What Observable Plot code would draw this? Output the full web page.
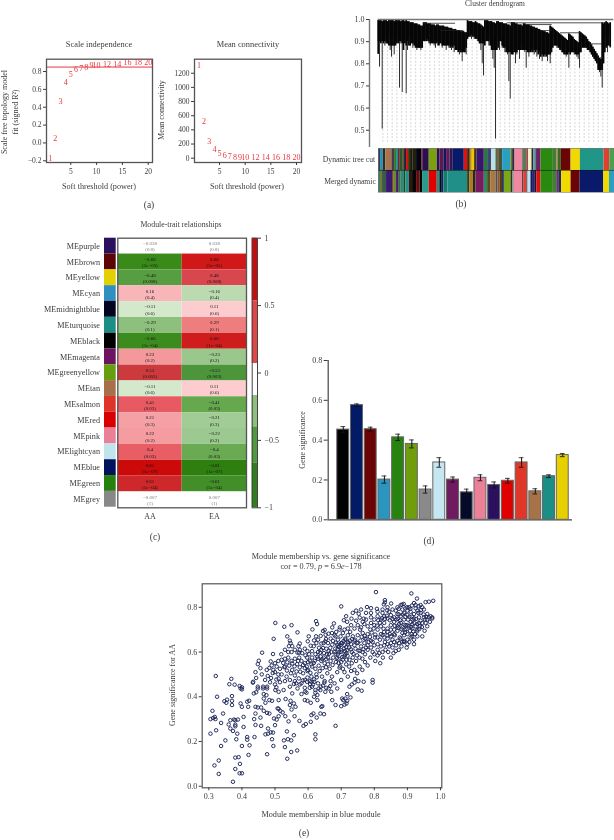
<!DOCTYPE html>
<html><head><meta charset="utf-8">
<script src="https://cdn.jsdelivr.net/npm/d3@7"></script>
<script src="https://cdn.jsdelivr.net/npm/@observablehq/plot@0.6"></script>
<style>
html,body{margin:0;padding:0;background:#fff}
#root{position:relative;width:614px;height:840px;overflow:hidden;font-family:"Liberation Serif",serif;color:#3c3c3c;filter:blur(.3px)}
.t{position:absolute;white-space:nowrap;line-height:1;transform-origin:center}
svg{position:absolute;overflow:visible;background:transparent}
</style></head><body><div id="root"></div>
<script>
// ---- (a) soft threshold
const powers=[1,2,3,4,5,6,7,8,9,10,12,14,16,18,20];
const fitR2=[-0.17,0.05,0.464,0.673,0.766,0.82,0.83,0.85,0.87,0.87,0.88,0.88,0.905,0.905,0.905];
const meanK=[1313,522,240,127,66,38,25,7,6,5,5,4,4,4,4];
const r2Cut=0.85;
// ---- (b) dendrogram: branch envelope read per leaf block
const dendroBottom=[.90,.785,.90,.505,.90,.88,.92,.89,.93,.86,.83,.88,.84,.90,.92,.90,.69,.89,.67,.93,.90,.665,.86,.92,.88,.90,.87,.89,.90,.86,.87,.87,.86,.87,
.93,.91,.92,.90,.89,.88,.91,.89,.88,.87,.90,.90,.88,.91,.87,.89,.88,.86,.90,.87,.89,.86,.88,.85,.89,.86,.88,.84,.85,.81,.87,.85,.84,
.94,.92,.95,.91,.93,.91,.93,.92,.90,.89,.86,.80,.745,.95,.90,.93,.88,.92,.86,.82,.78,.46,.90,.92,.86,.90,.87,.91,.85,.88,.84,.72,.64,
.90,.85,.88,.80,.84,.87,.82,.88,.86,.90,.85,.78,.88,.83,.87,.85,.88,.84,.86,.83,.87,.82,.86,.81,.85,.83,.84,.81,.84,.80,.85,
.92,.90,.88,.87,.88,.86,.87,.85,.84,.85,.83,.84,.78,.85,.88,.86,.84,.85,.83,.82,.78,.85,
.90,.89,.88,.87,.86,.86,.85,.84,.83,.82,.81,.80,.77,.76,.74,.69,.80,.92,.88,.85,.93,.87,.90,.86];
const dendroTop=[.995,.995,.995,.99,.995,.995,.995,.99,.995,.995,.995,.995,.99,.995,.995,.995,.995,.99,.995,.995,.99,.995,.99,.99,.985,.985,.985,.98,.98,.98,.975,.975,.97,.97,
.985,.985,.985,.98,.98,.98,.975,.975,.975,.97,.975,.975,.97,.97,.97,.97,.965,.965,.965,.96,.96,.96,.955,.955,.955,.95,.95,.95,.945,.945,.945,.94,.94,
.995,.99,.99,.99,.985,.985,.99,.985,.98,.98,.975,.97,.965,.995,.995,.995,.99,.99,.99,.985,.985,.98,.99,.99,.985,.985,.985,.98,.98,.98,.975,.975,.97,
.985,.985,.985,.98,.98,.975,.975,.975,.97,.98,.98,.975,.975,.975,.97,.97,.965,.965,.96,.96,.955,.955,.95,.95,.945,.945,.94,.94,.935,
.97,.965,.96,.955,.95,.945,.94,.935,.93,.925,.92,.915,.91,.905,.935,.93,.925,.92,.91,.905,.90,.895,
.945,.94,.935,.93,.925,.92,.91,.90,.895,.885,.875,.865,.855,.845,.835,.825,.82,.985,.98,.985,.99,.985,.98,.985];
const hangers=[14,28,42,56,70,84,98,112,127,141,155,169,183,197,211,225,239,253,268,282,296,310,324,338,352,366,380,394,408,422,436,450,464,478,492,506,520,534,548,562,576,590,604,618,632,646,660,674,688];
const mergeH=[.983,.95,.985,.977,.95,.94,.89,.827];
const mergeFrom=[137,187,387,442,487,547,637,667];
const mergeTo=[232,257,687,522,522,607,672,677];
const trackNames=["Dynamic tree cut","Merged dynamic"];
const topWidths=[6,8,8,18,8,6,6,5,7,6,6,6,6,8,10,16,4,18,24,8,13,7,10,10,33,10,8,6,7,7,22,10,12,13,5,5,10,25,5,7,23,12,6,10,5,7,4,11,37,10,4,10,29,28,71,17,15];
const topColors=["#3a3a5a","#2a8fb0","#2c2c2c","#a87548","#4a3a50","#3a7a30","#1f8f88","#6a1a2a","#2a5a20","#5a5a40","#2a1a3a","#d01010","#3a3a10","#1a1a08","#202010","#030314","#5a0a1a","#2a1050","#7aa010","#2a1050","#5a1a5a","#0a1a5a","#6a1a5a","#2a1a50","#0a1a6a","#e01010","#3a2a10","#c09010","#e8c800","#4a3010","#3a1570","#2a7a3a","#3a4a70","#bde0e8","#3a7a3a","#8a3a3a","#3a5a3a","#2a9fc0","#6a7a20","#2a2a3a","#ee88a0","#5a7a5a","#a04a4a","#f4f0c0","#2a2a2a","#5a9ab0","#2a2a3a","#7a1a6a","#2a8a10","#4a7a3a","#a08050","#3a6a20","#6a0505","#f0d800","#1f9688","#e04030","#4aa050"];
const botWidths=[6,6,12,18,5,7,8,6,8,6,10,10,12,10,8,20,24,8,5,7,12,59,7,10,8,25,10,10,15,6,6,8,5,20,5,5,25,3,10,3,9,7,6,5,12,37,10,8,7,28,27,71,17,16];
const botColors=["#3a7a6a","#6a7a30","#3a5a4a","#3a1a70","#6a4a20","#6a8a30","#4a1a6a","#2a7a30","#2a8a80","#1a4a20","#1f8f88","#2a1a10","#0a0505","#6a0a0a","#050505","#2a9a8a","#e00000","#1f8f88","#050510","#0a2a5a","#1a7a70","#1f8f88","#3a3a10","#b07a20","#2a2a10","#7a1a60","#2a8a60","#5a4a20","#a87a40","#5a4a5a","#8a5a20","#5a3a1a","#0a1a5a","#7aa818","#2a3a10","#888888","#ee88a0","#2a2a2a","#e04030","#2a2a3a","#bfe0ec","#0a1a5a","#3a1a70","#1a1a2a","#e01010","#2a8a10","#4a7a3a","#5a3a70","#2a2a4a","#f0d800","#6a0505","#0a1a6a","#f0d800","#2a9fc0"];
// ---- (c) heatmap
const modules=["MEpurple","MEbrown","MEyellow","MEcyan","MEmidnightblue","MEturquoise","MEblack","MEmagenta","MEgreenyellow","MEtan","MEsalmon","MEred","MEpink","MElightcyan","MEblue","MEgreen","MEgrey"];
const moduleColors=["#2c1060","#5c0505","#e2d000","#2e8fc0","#03051f","#1b8e86","#000000","#6d1460","#679e10","#a5704a","#dd3628","#d80000","#ea7f98","#bfe4ee","#02135e","#26800e","#888888"];
const corAA=[-0.038,-0.68,-0.48,0.16,-0.11,-0.29,-0.66,0.23,0.53,-0.11,0.41,0.21,0.22,0.4,0.81,0.61,-0.007];
const corEA=[0.038,0.68,0.48,-0.16,0.11,0.29,0.66,-0.23,-0.53,0.11,-0.41,-0.21,-0.22,-0.4,-0.81,-0.61,0.007];
const pvals=["0.8","5e−05","0.008","0.4","0.6","0.1","1e−04","0.2","0.003","0.6","0.03","0.3","0.2","0.03","1e−07","5e−04","1"];
const traits=["AA","EA"];
const heatStops=[-.81,-.68,-.53,-.41,-.29,-.22,-.11,-.05,.05,.11,.22,.29,.41,.53,.68,.81];
const heatColors=["#2e7f0f","#3a8a1a","#4c953a","#66a84e","#8cc07c","#9cc98f","#d4e8cc","#ffffff","#ffffff","#fccccf","#f49ca0","#ee7e7e","#e85a62","#cc3a3e","#d01818","#cc0a0a"];
const barFrom=[.535,.07,-.167,-.4,-.67];
const barTo=[1,.535,.07,-.167,-.4];
const barFill=["#c60d0d","#e04848","#ffffff","#8fbf7f","#4f9a3f"];
const barLow=[-1];const barLowTo=[-.67];const barLowFill=["#2f7f1f"];
// ---- (d) bars
const barColors=["#000000","#031a66","#6b0505","#2a95bf","#268310","#6f9d0b","#8a8a8a","#c6e6f2","#701a60","#050a2a","#ec8098","#2c1060","#e00000","#e03828","#a87248","#1b8e86","#e6d000"];
const barNames=["black","blue","brown","cyan","green","greenyellow","grey","lightcyan","magenta","midnightblue","pink","purple","red","salmon","tan","turquoise","yellow"];
const geneSig=[.453,.576,.455,.202,.414,.381,.152,.288,.202,.138,.211,.175,.196,.288,.143,.219,.325];
const geneErr=[.015,.006,.01,.018,.016,.02,.018,.024,.013,.016,.015,.015,.012,.024,.013,.007,.008];
// ---- (e) scatter
const membership=[
[.305,.235],[.322,.25],[.305,.30],[.313,.305],[.318,.31],[.32,.30],[.311,.337],[.337,.283],[.343,.325],[.325,.40],[.347,.38],[.355,.387],[.353,.373],[.37,.403],[.37,.382],[.37,.363],[.35,.205],[.337,.18],[.36,.276],[.365,.295],[.376,.298],[.388,.298],[.38,.295],[.38,.275],[.38,.268],[.365,.258],[.373,.247],[.386,.235],[.383,.21],[.40,.18],[.405,.265],[.405,.31],[.423,.183],[.42,.14],[.416,.208],[.416,.22],[.438,.22],[.317,.093],[.33,.115],[.33,.055],[.373,.02],[.38,.128],[.39,.13],[.394,.10],[.38,.077],[.393,.058],[.40,.058],[.476,.143],[.537,.123],[.549,.153],[.567,.16],[.622,.21],[.622,.232],[.683,.27],
[.396,.37],[.40,.355],[.396,.437],[.40,.433],[.416,.378],[.422,.382],[.419,.355],[.441,.355],[.448,.352],[.458,.352],[.441,.325],[.437,.30],[.456,.307],[.441,.274],[.458,.27],[.471,.232],[.479,.235],[.479,.258],[.487,.241],[.494,.24],[.491,.21],[.495,.18],[.466,.337],[.476,.328],[.483,.325],[.50,.273],[.497,.303],[.505,.298],[.511,.313],[.508,.348],[.511,.346],[.516,.337],[.523,.33],[.531,.313],[.541,.29],[.536,.245],[.527,.205],[.539,.21],[.549,.205],[.53,.175],[.557,.228],[.559,.313],[.574,.292],[.586,.27],[.593,.278],[.608,.288],[.61,.318],[.616,.325],[.626,.307],[.637,.325],[.648,.322],[.64,.355],[.643,.358],[.628,.385],[.608,.373],[.598,.382],[.59,.385],[.591,.423],[.595,.418],[.58,.412],[.568,.437],[.552,.415],[.547,.382],[.545,.363],[.557,.37],[.55,.343],[.562,.355],[.532,.39],[.511,.385],[.501,.43],[.511,.422],[.526,.43],[.545,.445],[.557,.457],[.564,.46],[.491,.382],[.483,.385],[.466,.392],[.474,.407],[.471,.373],[.464,.437],[.476,.437],[.436,.415],[.443,.42],[.448,.437],[.433,.463],[.466,.412],
[.673,.385],[.683,.363],[.70,.358],[.703,.392],[.706,.385],[.713,.392],[.718,.382],[.71,.365],[.716,.37],[.728,.397],[.718,.412],[.725,.445],[.732,.455],[.74,.463],[.75,.433],[.762,.427],[.768,.467],[.795,.463],[.795,.475],[.688,.437],[.67,.422],[.652,.422],[.637,.43],[.632,.437],[.667,.448],[.662,.437],[.649,.463],[.622,.43],[.619,.467],[.606,.457],[.61,.467],[.597,.467],[.628,.408],[.618,.40],[.622,.418],
[.805,.868],[.912,.862],[.929,.839],[.978,.829],[.965,.825],[.955,.823],[.92,.819],[.832,.832],[.832,.822],[.829,.813],[.851,.817],[.70,.804],[.778,.801],[.79,.796],[.808,.793],[.839,.786],[.884,.812],[.889,.815],[.899,.80],[.909,.793],
[.501,.73],[.528,.713],[.55,.72],[.568,.688],[.624,.738],[.627,.725],[.613,.701],[.678,.728],[.673,.71],[.696,.71],[.708,.742],[.715,.76],[.718,.735],[.731,.749],[.753,.771],[.756,.754],[.768,.749],
[.496,.659],[.537,.67],[.461,.597],[.494,.591],[.519,.59],[.545,.651],[.547,.64],[.542,.626],[.552,.626],[.575,.638],[.571,.626],[.568,.597],[.573,.597],[.573,.575],[.59,.615],[.599,.648],[.602,.67],[.624,.67],[.63,.655],[.64,.638],[.647,.64],[.652,.648],[.645,.694],[.65,.699],[.653,.677],[.617,.626],[.598,.604],[.612,.604],[.633,.619],[.451,.561],[.448,.546],[.456,.528],[.487,.558],[.483,.529],[.441,.51],[.443,.484],[.434,.467],[.50,.51],[.493,.506],[.478,.493],[.488,.484],[.511,.481],[.504,.477],[.321,.493],[.368,.48],[.362,.456],[.378,.454],[.393,.448],[.40,.442],[.448,.445],[.464,.445],[.476,.445],[.504,.442],
[.525,.551],[.537,.554],[.552,.549],[.567,.546],[.585,.542],[.528,.532],[.543,.539],[.559,.536],[.575,.532],[.536,.517],[.552,.52],[.565,.513],[.597,.575],[.605,.561],[.617,.551],[.632,.539],[.643,.568],[.647,.575],[.638,.58],[.657,.59],[.662,.604],[.667,.619],[.673,.633],[.682,.615],[.688,.633],[.693,.623],[.703,.64],[.713,.655],
[.52,.50],[.535,.49],[.548,.505],[.56,.495],[.572,.482],[.585,.505],[.598,.515],[.61,.49],[.618,.478],[.625,.50],[.635,.515],[.642,.49],[.65,.47],[.658,.505],[.665,.525],[.672,.49],[.68,.46],[.688,.51],[.695,.53],[.70,.475],[.58,.46],[.59,.475],[.605,.44],[.615,.455],[.63,.46],[.638,.445],[.645,.45],[.655,.44],[.668,.47],[.612,.445],[.60,.52],[.622,.525],[.612,.535],
[.66,.545],[.668,.56],[.676,.575],[.684,.555],[.692,.57],[.70,.555],[.708,.58],[.716,.565],[.724,.535],[.732,.55],[.74,.52],[.748,.505],[.756,.535],[.764,.52],[.772,.555],[.78,.54],[.71,.51],[.72,.49],[.73,.515],[.742,.48],[.752,.47],[.70,.60],[.708,.615],[.716,.595],[.724,.62],[.732,.60],[.74,.63],[.748,.585],[.756,.605],[.764,.57],[.772,.59],[.78,.61],[.788,.575],[.795,.60],[.803,.56],[.81,.585],[.818,.55],[.826,.575],[.834,.61],[.842,.60],[.85,.575],[.858,.595],[.866,.63],[.874,.61],[.882,.625],[.89,.65],[.898,.62],[.906,.645],[.914,.67],
[.575,.61],[.582,.595],[.592,.585],[.603,.59],[.612,.575],[.622,.59],[.63,.60],[.64,.61],[.648,.595],[.655,.615],[.66,.64],[.668,.66],[.675,.65],[.683,.67],[.69,.655],[.698,.67],[.705,.685],[.712,.66],[.72,.675],[.727,.69],[.735,.67],[.742,.655],[.75,.675],[.757,.70],[.765,.685],[.772,.66],[.78,.68],[.788,.70],[.795,.645],[.802,.665],[.81,.635],[.817,.655],[.825,.675],[.832,.645],[.84,.66],[.847,.68],[.855,.655],[.862,.675],[.87,.695],[.877,.665],[.885,.685],[.892,.70],[.90,.68],[.908,.695],[.915,.705],[.923,.68],[.93,.70],[.938,.715],[.945,.67],[.952,.695],[.96,.715],[.968,.735],[.975,.75],
[.692,.625],[.70,.64],[.71,.63],[.72,.645],[.73,.635],[.74,.65],[.75,.64],[.76,.625],[.77,.64],[.78,.63],[.79,.62],[.80,.63],[.81,.61],[.82,.625],[.83,.63],[.84,.635],[.85,.64],[.86,.645],[.87,.65],[.88,.66],[.89,.675],[.90,.655],[.91,.665],[.92,.655],[.93,.67],
[.74,.705],[.75,.72],[.76,.71],[.77,.725],[.78,.715],[.79,.73],[.80,.72],[.81,.70],[.82,.715],[.83,.73],[.84,.705],[.85,.72],[.86,.735],[.87,.715],[.88,.73],[.89,.745],[.90,.72],[.91,.735],[.92,.75],[.93,.725],[.94,.74],[.95,.755],[.96,.745],[.97,.76],
[.80,.745],[.81,.76],[.82,.745],[.83,.76],[.84,.75],[.85,.765],[.86,.755],[.87,.77],[.88,.76],[.89,.775],[.90,.765],[.91,.78],[.92,.77],[.93,.785],[.94,.775],[.95,.79],[.96,.77],[.885,.79],[.865,.785],[.845,.78],[.825,.775],[.905,.80],[.925,.795],[.945,.80],[.915,.745],[.935,.755],
[.79,.755],[.775,.745],[.765,.735],[.745,.74],[.73,.72],[.72,.705],[.71,.70],[.695,.70],[.685,.69],[.68,.675],[.672,.685],[.735,.775],[.745,.785],[.76,.79],[.775,.775],[.79,.775],[.81,.78],[.825,.79],[.84,.80],[.855,.79],[.87,.80],[.88,.81],[.90,.785],[.925,.81],[.94,.81],
[.83,.69],[.84,.69],[.85,.70],[.86,.70],[.875,.725],[.885,.71],[.895,.72],[.905,.715],[.915,.725],[.925,.715],[.935,.73],[.945,.73],[.955,.73],[.965,.755],[.975,.755],[.81,.665],[.82,.68],[.83,.665],[.84,.675],[.85,.67],[.86,.68],[.89,.645],[.90,.635],[.92,.635],[.855,.62],[.865,.605],[.875,.64],[.885,.645],[.845,.625],[.825,.60],[.815,.595],[.80,.59],[.79,.65],[.775,.62],[.765,.60],[.755,.575],[.745,.56],[.735,.575],[.725,.565],[.715,.545],[.705,.525],[.69,.59],[.68,.60],[.67,.60],[.66,.575],[.65,.55],[.64,.56],[.63,.57],[.62,.56],[.61,.545],[.60,.555],[.59,.55],[.58,.56],[.57,.56],[.56,.57],[.55,.56],[.54,.575],[.53,.57],[.52,.565],[.51,.56],[.50,.55],[.49,.54],[.55,.60],[.56,.61],[.54,.60],[.53,.61],[.53,.535],[.515,.525],[.505,.535],[.495,.52],[.51,.50],[.475,.52],[.46,.50],[.47,.475],[.485,.465],[.50,.455],[.515,.465],[.53,.47],[.545,.475],[.56,.47],[.575,.455],[.59,.44],[.605,.47],
[.684,.642],[.689,.613],[.694,.598],[.698,.631],[.703,.577],[.707,.649],[.711,.604],[.715,.622],[.719,.583],[.683,.592],[.687,.573],[.692,.551],[.697,.536],[.701,.608],[.705,.566],[.712,.588],[.717,.607],[.721,.638],[.726,.651],[.729,.612],[.733,.658],[.737,.592],[.743,.615],[.747,.642],[.752,.607],[.758,.651],[.762,.668],[.767,.612],[.771,.672],[.776,.658],[.783,.645],[.787,.668],[.792,.687],[.798,.705],[.803,.678],[.808,.718],[.812,.742],[.817,.731],[.823,.752],[.828,.704],
[.862,.717],[.866,.745],[.871,.748],[.874,.768],[.878,.742],[.882,.703],[.886,.768],[.891,.722],[.894,.757],[.897,.702],[.902,.745],[.906,.758],[.911,.712],[.913,.758],[.918,.692],[.921,.729],[.926,.748],[.929,.692],[.933,.775],[.936,.703],[.941,.788],[.944,.712],[.949,.768],[.953,.745],[.957,.758],[.874,.793],[.894,.795],[.914,.808],[.934,.805],[.873,.708],[.893,.688],[.913,.68],[.855,.748],[.847,.742],[.838,.762],[.832,.748],
[.638,.672],[.654,.658],[.662,.682],[.618,.652],[.608,.628],[.625,.64],[.636,.597],[.655,.568],[.663,.592],[.645,.618],[.628,.578],[.596,.535],[.576,.512],[.59,.528],[.607,.507],[.654,.532],[.674,.542],[.644,.528],[.626,.487],[.598,.486],[.584,.473]
];
// ---- layout helpers
const FONT='"Liberation Serif",serif', INK="#3c3c3c";
const root=document.getElementById("root");
function put(svg,left,top){svg.style.left=left+"px";svg.style.top=top+"px";svg.style.maxWidth="none";root.append(svg);}
function label(html,x,y,size=8,rot=0){const d=document.createElement("div");d.className="t";d.innerHTML=html;d.style.left=x+"px";d.style.top=y+"px";d.style.fontSize=size+"px";d.style.transform=`translate(-50%,-50%) rotate(${rot}deg)`;root.append(d);}
const style={fontFamily:FONT,background:"transparent",color:INK};
const RED="#e8363e";

// (a) left
put(Plot.plot({width:165,height:150,marginLeft:46,marginRight:13,marginTop:18.7,marginBottom:28,style,
 x:{domain:[.29,20.83]},y:{domain:[-.219,.938]},
 marks:[
  Plot.ruleY([r2Cut],{stroke:RED,strokeWidth:1}),
  Plot.frame({stroke:"#555",strokeWidth:1.3}),
  Plot.axisX({ticks:[5,10,15,20],tickSize:3,tickPadding:3,fontSize:7.5,label:null}),
  Plot.axisY({ticks:[-.2,0,.2,.4,.6,.8],tickSize:3,tickPadding:2,fontSize:7.5,label:null,tickFormat:d3.format(".1f")}),
  Plot.text(powers,{x:d=>d,y:(d,i)=>fitR2[i],text:d=>String(d),fill:RED,fontSize:8})
 ]}),0,40);
// (a) right
put(Plot.plot({width:160,height:150,marginLeft:44,marginRight:9,marginTop:18.7,marginBottom:28,style,
 x:{domain:[.127,20.97]},y:{domain:[-60.7,1398]},
 marks:[
  Plot.frame({stroke:"#555",strokeWidth:1.3}),
  Plot.axisX({ticks:[5,10,15,20],tickSize:3,tickPadding:3,fontSize:7.5,label:null}),
  Plot.axisY({ticks:[0,200,400,600,800,1000,1200],tickSize:3,tickPadding:2,fontSize:7.5,label:null,tickFormat:d=>String(d)}),
  Plot.text(powers,{x:d=>d,y:(d,i)=>meanK[i],text:d=>String(d),fill:RED,fontSize:8})
 ]}),150,40);
label("Scale independence",99,45,8.4);label("Mean connectivity",248,45,8.4);
label("Soft threshold (power)",99,187,8.2);label("Soft threshold (power)",247,187,8.2);
label("Scale free topology model",5,112,8,-90);label("fit (signed R²)",16,112,8,-90);
label("Mean connectivity",162,110,8,-90);
label("(a)",149,206,9.5);

// (b)
const core=dendroBottom.map((h,i)=>d3.median(dendroBottom.slice(Math.max(0,i-3),i+4)));
const leaves=dendroBottom.map((h,i)=>({leaf:i*4,low:h,core:core[i],high:dendroTop[i]}));
put(Plot.plot({width:274,height:147,marginLeft:29,marginRight:.5,marginTop:19,marginBottom:0,style,
 x:{domain:[-26.1,707.4],axis:null},y:{domain:[.422,1]},
 marks:[
  Plot.ruleX(hangers,{x:d=>d,y1:.445,y2:d=>dendroBottom[Math.round(d/4)],stroke:"#dcdcdc",strokeWidth:1.2,strokeDasharray:"2,1.6"}),
  Plot.ruleX(leaves,{x:"leaf",y1:"low",y2:"high",stroke:"#2a2a2a",strokeWidth:1}),
  Plot.ruleX(leaves,{x:"leaf",y1:"core",y2:"high",stroke:"#060606",strokeWidth:1.7}),
  Plot.ruleY(mergeH,{y:d=>d,x1:(d,i)=>mergeFrom[i],x2:(d,i)=>mergeTo[i],stroke:"#222",strokeWidth:.8}),
  Plot.ruleY([1],{x1:0,x2:707,stroke:"#777",strokeWidth:1.6}),
  Plot.ruleX([-26.1],{y1:.422,y2:1,stroke:"#777",strokeWidth:1.4}),
  Plot.axisY({ticks:[.5,.6,.7,.8,.9,1],tickSize:3,tickPadding:2,fontSize:8,label:null,tickFormat:d3.format(".1f")})
 ]}),340,0);
function track(name,widths,colors){const ends=d3.cumsum(widths);return widths.map((w,i)=>({track:name,start:ends[i]-w,end:ends[i],fill:colors[i]}));}
const segs=[...track(trackNames[0],topWidths,topColors),...track(trackNames[1],botWidths,botColors)];
put(Plot.plot({width:236.3,height:44,marginLeft:0,marginRight:0,marginTop:0,marginBottom:0,style,
 x:{domain:[0,708],axis:null},y:{domain:trackNames,padding:0,round:false,axis:null},color:{type:"identity"},
 marks:[Plot.barX(segs,{x1:"start",x2:"end",y:"track",fill:"fill"}),
        Plot.ruleY([trackNames[1]],{stroke:"#111",strokeWidth:.5,dy:-11}),
        Plot.frame({stroke:"#777",strokeWidth:.6})]}),377.7,148);
label("Dynamic tree cut",349,160,7.6);label("Merged dynamic",350,182,7.6);
label("Cluster dendrogram",495,4,7.5);
label("(b)",461,205,9.5);

// (c)
const heat=modules.flatMap((m,i)=>[{m,t:"AA",r:corAA[i],p:pvals[i]},{m,t:"EA",r:corEA[i],p:pvals[i]}]);
const fmtR=r=>String(r).replace("-","−");
put(Plot.plot({width:116,height:270,marginLeft:104,marginRight:.3,marginTop:.7,marginBottom:.3,style,
 x:{domain:["swatch"],padding:0,round:false,axis:null},y:{domain:modules,padding:0,round:false,axis:null},color:{type:"identity"},
 marks:[Plot.cell(modules,{x:()=>"swatch",y:d=>d,fill:(d,i)=>moduleColors[i]}),
        Plot.axisY({tickSize:0,tickPadding:4.5,fontSize:8.2,label:null})]}),0,237);
put(Plot.plot({width:136,height:302,marginLeft:5.3,marginRight:2,marginTop:7.7,marginBottom:24.7,style,
 x:{domain:traits,padding:0,round:false},y:{domain:modules,padding:0,round:false,axis:null},
 color:{type:"linear",domain:heatStops,range:heatColors},
 marks:[Plot.cell(heat,{x:"t",y:"m",fill:"r"}),
        Plot.text(heat,{x:"t",y:"m",text:d=>fmtR(d.r)+"\n("+d.p+")",fontSize:4.9,lineHeight:1.3,fontWeight:d=>Math.abs(d.r)<.05?"normal":"bold",fill:d=>Math.abs(d.r)<.05?"#777":"#141414"}),
        Plot.frame({stroke:"#555",strokeWidth:1.3}),
        Plot.axisX({tickSize:0,tickPadding:6,fontSize:8,label:null})]}),112,230);
put(Plot.plot({width:38,height:290,marginLeft:1.7,marginRight:31,marginTop:7.7,marginBottom:12.7,style,
 x:{axis:null,domain:[0,1]},y:{domain:[-1,1]},color:{type:"identity"},
 marks:[Plot.rect(barFill,{y1:(d,i)=>barFrom[i],y2:(d,i)=>barTo[i],x1:0,x2:1,fill:d=>d}),
        Plot.rect(barLowFill,{y1:barLow[0],y2:barLowTo[0],x1:0,x2:1,fill:d=>d}),
        Plot.frame({stroke:"#444",strokeWidth:1}),
        Plot.axisY({anchor:"right",ticks:[-1,-.5,0,.5,1],tickSize:3,tickPadding:4,fontSize:8,label:null,tickFormat:d=>String(d).replace("-","−")})]}),250,230);
label("Module-trait relationships",181,225,7.8);
label("(c)",155,538,9.5);

// (d)
const bars=barNames.map((n,i)=>({n,v:geneSig[i],e:geneErr[i],c:barColors[i]}));
const yGene={domain:[0,.8]};
put(Plot.plot({width:272,height:175,marginLeft:27.7,marginRight:0,marginTop:10,marginBottom:5.7,style,
 x:{domain:[0,1],axis:null},y:yGene,
 marks:[
  Plot.ruleY([0],{stroke:"#444",strokeWidth:1.2}),
  Plot.ruleX([0],{y1:0,y2:.8,stroke:"#444",strokeWidth:1.2}),
  Plot.axisY({ticks:[0,.2,.4,.6,.8],tickSize:4,tickPadding:2,fontSize:8,label:null,tickFormat:d3.format(".1f")})
 ]}),300,350);
put(Plot.plot({width:272,height:175,marginLeft:35,marginRight:2,marginTop:10,marginBottom:5.7,style,
 x:{domain:barNames,padding:.13,round:false,axis:null},y:{...yGene,axis:null},color:{type:"identity"},
 marks:[
  Plot.barY(bars,{x:"n",y:"v",fill:"c",stroke:"#666",strokeWidth:1}),
  Plot.ruleX(bars,{x:"n",y1:d=>d.v-d.e,y2:d=>d.v+d.e,stroke:"#111",strokeWidth:1}),
  Plot.tickY(bars,{x:"n",y:d=>d.v+d.e,stroke:"#333",strokeWidth:.9,insetLeft:3.6,insetRight:3.6}),
  Plot.tickY(bars,{x:"n",y:d=>d.v-d.e,stroke:"#111",strokeWidth:.9,insetLeft:3.6,insetRight:3.6})
 ]}),300,350);
label("Gene significance",303,440,8,-90);
label("(d)",429,542,9.5);

// (e)
put(Plot.plot({width:300,height:230,marginLeft:41.7,marginRight:18.7,marginTop:8.3,marginBottom:17.7,style,
 x:{domain:[.28,1.004]},y:{domain:[-.007,.905]},
 marks:[
  Plot.frame({stroke:"#555",strokeWidth:1.2}),
  Plot.dot(membership,{x:d=>d[0],y:d=>d[1],r:1.75,stroke:"#1c2656",strokeWidth:.95,fill:"none"}),
  Plot.axisX({ticks:[.3,.4,.5,.6,.7,.8,.9,1],tickSize:3,tickPadding:3,fontSize:8,label:null,tickFormat:d3.format(".1f")}),
  Plot.axisY({ticks:[0,.2,.4,.6,.8],tickSize:3,tickPadding:2,fontSize:8,label:null,tickFormat:d3.format(".1f")})
 ]}),160,575);
label("Module membership vs. gene significance",321,557,8.2);
label('cor = 0.79, <i>p</i> = 6.9<i>e</i>−178',321,567,8.2);
label("Module membership in blue module",321,815,8.2);
label("Gene significance for AA",173,685,8,-90);
label("(e)",304,834,9.5);
</script></body></html>
